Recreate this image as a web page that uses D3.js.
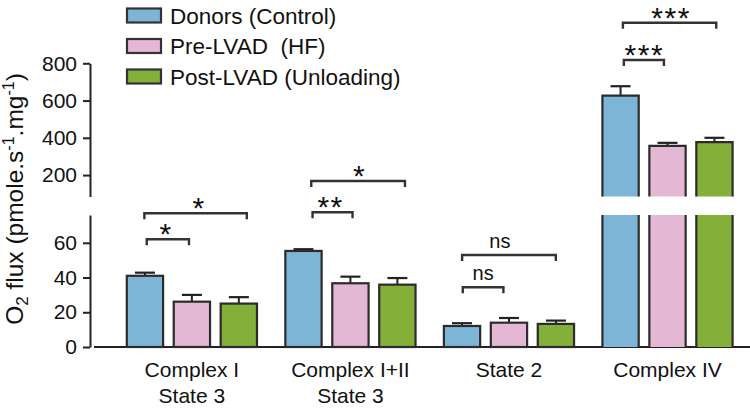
<!DOCTYPE html>
<html><head><meta charset="utf-8">
<script src="https://cdn.jsdelivr.net/npm/d3@7/dist/d3.min.js"></script>
<style>
html,body{margin:0;padding:0;background:#fff;}
svg{display:block;font-family:"Liberation Sans",Arial,Helvetica,sans-serif;}
</style></head>
<body><svg id="chart" width="750" height="410"></svg>
<script>
// ---- data ----
const categories = [["Complex I","State 3"],["Complex I+II","State 3"],["State 2"],["Complex IV"]];
const seriesNames = ["Donors (Control)","Pre-LVAD  (HF)","Post-LVAD (Unloading)"];
const seriesColors = ["#7db5d6","#e4b8d5","#84b03a"];
const donors    = [41.0, 55.3, 12.1, 627];
const donorsErr = [1.8, 1.0, 1.6, 50];
const preLvad    = [26.1, 36.7, 14.0, 357];
const preLvadErr = [3.9, 3.8, 2.7, 16];
const postLvad    = [25.0, 35.9, 13.3, 377];
const postLvadErr = [3.7, 3.8, 1.9, 23];
const lowTicks = [0, 20, 40, 60];
const highTicks = [200, 400, 600, 800];
const lowDomain = [0, 76];
const highDomain = [85, 800];
// significance brackets: group, span (fractions of group), label position, level (data units), label
const brackets = [
  {g:0, a:0.159, b:0.478, lx:0.305, y:62.0,  label:"*"},
  {g:0, a:0.141, b:0.915, lx:0.554, y:77.0,  label:"*"},
  {g:1, a:0.214, b:0.516, lx:0.350, y:77.6,  label:"**"},
  {g:1, a:0.204, b:0.912, lx:0.569, y:95.6,  label:"*"},
  {g:2, a:0.151, b:0.458, lx:0.305, y:34.4,  label:"ns"},
  {g:2, a:0.146, b:0.854, lx:0.431, y:53.0,  label:"ns"},
  {g:3, a:0.170, b:0.473, lx:0.325, y:817.7, label:"***"},
  {g:3, a:0.163, b:0.868, lx:0.527, y:1018,  label:"***"}
];

const seriesVals = [donors, preLvad, postLvad];
const seriesErrs = [donorsErr, preLvadErr, postLvadErr];
const catKeys = categories.map(c => c.join(" "));

const svg = d3.select("#chart");
const FONT = '"Liberation Sans",Arial,Helvetica,sans-serif';
const ink = "#222";

const x0 = d3.scaleBand().domain(catKeys).range([125.7, 733.7]).paddingInner(0.165).paddingOuter(0);
const x1 = d3.scaleBand().domain([0,1,2]).range([0, x0.bandwidth()]).paddingInner(0.18);
const yLow = d3.scaleLinear().domain(lowDomain).range([347, 215]);
const yHigh = d3.scaleLinear().domain(highDomain).range([196.5, 63.3]);
const yOf = v => v <= lowDomain[1] ? yLow(v) : yHigh(v);

// ---- axes ----
const axisStyle = g => {
  g.selectAll("path.domain").attr("stroke", ink).attr("stroke-width", 2);
  g.selectAll(".tick line").attr("stroke", ink).attr("stroke-width", 2);
  g.selectAll(".tick text").attr("font-size", 21).attr("font-family", FONT).attr("fill", "#111");
};
svg.append("g").attr("transform","translate(90,0)")
  .call(d3.axisLeft(yLow).tickValues(lowTicks).tickSize(7).tickSizeOuter(0).tickPadding(6))
  .call(axisStyle);
svg.append("g").attr("transform","translate(90,0)")
  .call(d3.axisLeft(yHigh).tickValues(highTicks).tickSize(7).tickSizeOuter(0).tickPadding(6))
  .call(axisStyle);

// baseline
svg.append("line").attr("x1", 94).attr("x2", 750).attr("y1", yLow(0)).attr("y2", yLow(0))
  .attr("stroke", ink).attr("stroke-width", 2);

// ---- bars ----
const bw = x1.bandwidth();
const sw = 2.2;
categories.forEach((cat, ci) => {
  seriesVals.forEach((vals, si) => {
    const v = vals[ci], e = seriesErrs[si][ci];
    const xl = x0(catKeys[ci]) + x1(si) + sw/2;
    const w = bw - sw;
    const g = svg.append("g");
    const yTopV = yOf(v), yErr = yOf(v + e);
    const cx = xl + w/2;
    g.append("line").attr("x1", cx).attr("x2", cx).attr("y1", yTopV).attr("y2", yErr)
      .attr("stroke", ink).attr("stroke-width", 2);
    g.append("line").attr("x1", cx - 10).attr("x2", cx + 10).attr("y1", yErr).attr("y2", yErr)
      .attr("stroke", ink).attr("stroke-width", 2.2);
    if (v <= lowDomain[1]) {
      g.append("rect").attr("x", xl).attr("y", yLow(v)).attr("width", w).attr("height", yLow(0) - yLow(v))
        .attr("fill", seriesColors[si]).attr("stroke", "#2b2b2b").attr("stroke-width", sw);
    } else {
      const yb0 = yLow(0), yb1 = yLow(lowDomain[1]);
      g.append("rect").attr("x", xl).attr("y", yb1).attr("width", w).attr("height", yb0 - yb1)
        .attr("fill", seriesColors[si]);
      g.append("path").attr("d", `M${xl},${yb1}V${yb0}M${xl+w},${yb1}V${yb0}`)
        .attr("stroke", "#2b2b2b").attr("stroke-width", sw).attr("fill", "none");
      const yt0 = yHigh(highDomain[0]), yt1 = yHigh(v);
      g.append("rect").attr("x", xl).attr("y", yt1).attr("width", w).attr("height", yt0 - yt1)
        .attr("fill", seriesColors[si]);
      g.append("path").attr("d", `M${xl},${yt0}V${yt1}H${xl+w}V${yt0}`)
        .attr("stroke", "#2b2b2b").attr("stroke-width", sw).attr("fill", "none");
    }
  });
});

// ---- brackets ----
brackets.forEach(b => {
  const gx = x0(catKeys[b.g]), W = x0.bandwidth();
  const scale = b.g === 3 ? yHigh : yLow;
  const yy = scale(b.y);
  const xa = gx + b.a * W, xb = gx + b.b * W;
  svg.append("path").attr("d", `M${xa},${yy+6}V${yy}H${xb}V${yy+6}`)
    .attr("fill", "none").attr("stroke", "#333").attr("stroke-width", 2.4);
  const isStar = b.label.indexOf("*") >= 0;
  svg.append("text").attr("x", gx + b.lx * W).attr("y", isStar ? yy + 5 : yy - 7)
    .attr("text-anchor", "middle").attr("font-family", FONT)
    .attr("font-size", isStar ? 30 : 20)
    .attr("letter-spacing", isStar ? 1.5 : 0)
    .attr("fill", "#111").text(b.label);
});

// ---- x labels ----
categories.forEach((lines, ci) => {
  const cx = x0(catKeys[ci]) + x0.bandwidth()/2;
  const t = svg.append("text").attr("text-anchor", "middle").attr("font-family", FONT)
    .attr("font-size", 21).attr("fill", "#111");
  lines.forEach((ln, li) => {
    t.append("tspan").attr("x", cx).attr("y", 377 + li * 25.5).text(ln);
  });
});

// ---- y title ----
const yt = svg.append("text").attr("transform", "translate(23,199) rotate(-90)")
  .attr("text-anchor", "middle").attr("font-family", FONT).attr("font-size", 24.5).attr("fill", "#111");
yt.append("tspan").text("O");
yt.append("tspan").attr("font-size", 17).attr("dy", 5).text("2");
yt.append("tspan").attr("dy", -5).text(" flux (pmole.s");
yt.append("tspan").attr("font-size", 16).attr("dy", -9).text("-1");
yt.append("tspan").attr("dy", 9).text(".mg");
yt.append("tspan").attr("font-size", 16).attr("dy", -9).text("-1");
yt.append("tspan").attr("dy", 9).text(")");

// ---- legend ----
const legendRows = [15.5, 46, 76.5];
seriesNames.forEach((name, si) => {
  const cy = legendRows[si];
  svg.append("rect").attr("x", 127).attr("y", cy - 7).attr("width", 34).attr("height", 14)
    .attr("fill", seriesColors[si]).attr("stroke", "#333").attr("stroke-width", 2.2);
  svg.append("text").attr("x", 170).attr("y", cy).attr("dy", "0.36em")
    .attr("font-family", FONT).attr("font-size", 22.5).attr("fill", "#111")
    .attr("xml:space", "preserve").style("white-space", "pre").text(name);
});
</script></body></html>
